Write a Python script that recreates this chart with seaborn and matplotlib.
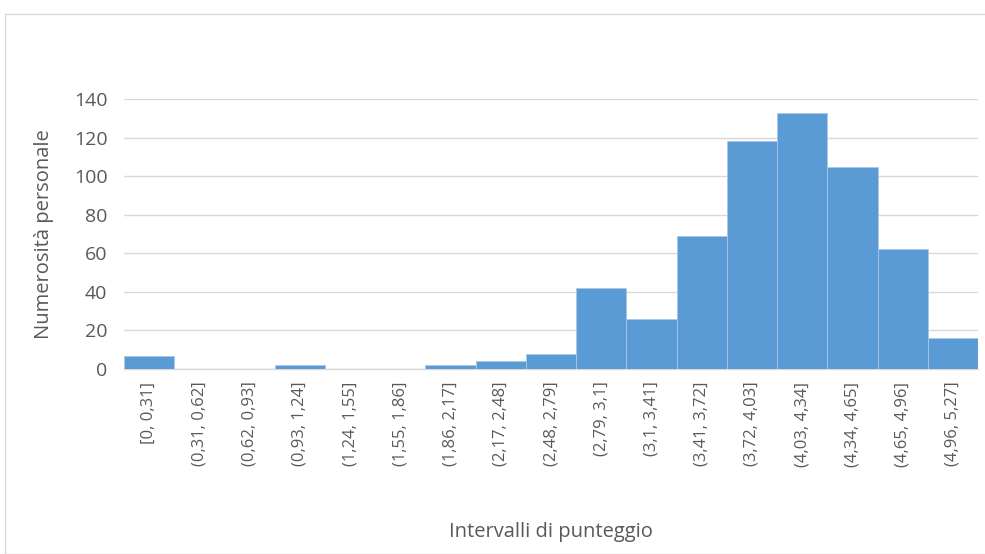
import matplotlib
matplotlib.use("Agg")
import matplotlib.pyplot as plt
import seaborn as sns
import pandas as pd
from matplotlib.patches import Rectangle

# -----------------------------
# Data
# -----------------------------
intervals = [
    "[0, 0,31]", "(0,31, 0,62]", "(0,62, 0,93]", "(0,93, 1,24]",
    "(1,24, 1,55]", "(1,55, 1,86]", "(1,86, 2,17]", "(2,17, 2,48]",
    "(2,48, 2,79]", "(2,79, 3,1]", "(3,1, 3,41]", "(3,41, 3,72]",
    "(3,72, 4,03]", "(4,03, 4,34]", "(4,34, 4,65]", "(4,65, 4,96]",
    "(4,96, 5,27]",
]
counts = [7, 0, 0, 2, 0, 0, 2, 4, 8, 42, 26, 69, 118, 133, 105, 62, 16]
y_ticks = [0, 20, 40, 60, 80, 100, 120, 140]

df = pd.DataFrame({"intervallo": intervals, "n": counts})

sns.set_style("white")
plt.rcParams["font.family"] = ["Open Sans", "DejaVu Sans"]
text_col = "#595959"

fig = plt.figure(figsize=(9.85, 5.54), dpi=100)
ax = fig.add_axes([0.1259, 0.3339, 0.867, 0.4874])

sns.barplot(data=df, x="intervallo", y="n", color="#5B9BD5", saturation=1,
            width=1.0, edgecolor="#A9C8E8", linewidth=0.6, ax=ax, zorder=3)

ax.set_ylim(0, 140)
ax.set_xlim(-0.5, len(intervals) - 0.5)
ax.set_yticks(y_ticks)
ax.yaxis.grid(True, color="#D9D9D9", linewidth=1, zorder=0)
ax.set_axisbelow(True)
for side in ["top", "right", "left"]:
    ax.spines[side].set_visible(False)
ax.spines["bottom"].set_color("#D9D9D9")
ax.spines["bottom"].set_linewidth(1)

ax.tick_params(axis="y", labelsize=14, colors=text_col, length=0, pad=12)
ax.tick_params(axis="x", labelsize=12, colors=text_col, length=0, pad=9)
plt.setp(ax.get_xticklabels(), rotation=90)

ax.set_xlabel("Intervalli di punteggio", fontsize=14.5, color=text_col, labelpad=40)
ax.set_ylabel("Numerosità personale", fontsize=14.5, color=text_col, labelpad=14)

# light outer frame like the spreadsheet chart area
fig.patches.append(Rectangle((5 / 985, 0), 1.0, 1 - 14 / 554, transform=fig.transFigure,
                             fill=False, edgecolor="#D9D9D9", linewidth=1))

fig.savefig("out.png", dpi=100)
